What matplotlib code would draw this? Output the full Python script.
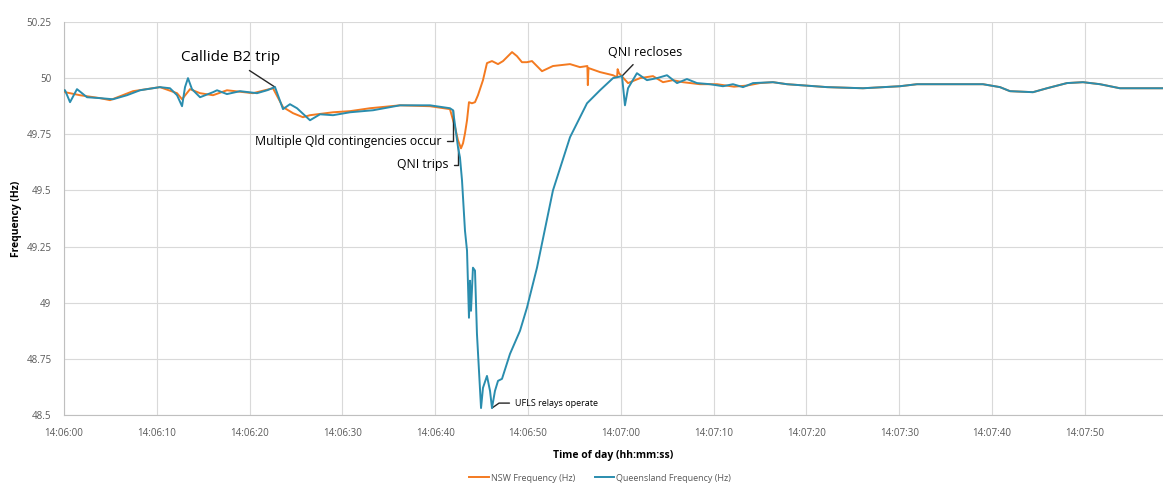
import matplotlib
matplotlib.use("Agg")
import matplotlib.pyplot as plt

plt.rcParams['font.family'] = ['Open Sans', 'DejaVu Sans']

# seconds after 14:06:00
nsw_t = [0, 0.11, 1.72, 3.88, 4.96, 7.44, 10.34, 12.18, 12.72, 13.58, 14.66, 16.06, 17.56,
         20.37, 22.52, 23.6, 24.68, 25.75, 26.51, 28.99, 30.82, 32.97, 36.21, 39.44, 41.59,
         42.13, 42.46, 42.78, 43.0, 43.21, 43.43, 43.64, 43.96, 44.29, 44.61, 45.15, 45.58,
         46.12, 46.77, 47.31, 48.28, 48.81, 49.35, 49.89, 50.43, 51.51, 52.69, 54.53, 55.6,
         56.4, 56.45, 56.52, 57.76, 59.16, 59.6, 59.66, 59.81, 60.78, 62.07, 63.47, 64.55,
         65.62, 66.7, 68.53, 70.37, 72.2, 73.6, 74.98, 76.4, 77.91, 82.22, 86.1, 90.09, 91.92,
         99.03, 100.86, 101.94, 104.42, 105.93, 108.08, 109.81, 111.64, 113.79, 118.43]
nsw_f = [49.946, 49.9375, 49.924, 49.911, 49.902, 49.942, 49.960, 49.933, 49.906, 49.951,
         49.933, 49.924, 49.946, 49.933, 49.955, 49.871, 49.844, 49.826, 49.835, 49.848,
         49.853, 49.866, 49.879, 49.875, 49.862, 49.783, 49.723, 49.6875, 49.71, 49.754,
         49.8125, 49.893, 49.888, 49.893, 49.924, 49.991, 50.067, 50.076, 50.0625, 50.076,
         50.116, 50.098, 50.071, 50.071, 50.076, 50.031, 50.054, 50.0625, 50.049, 50.054,
         49.969, 50.045, 50.027, 50.013, 50.004, 50.04, 50.022, 49.978, 50.0, 50.009,
         49.982, 49.991, 49.982, 49.973, 49.973, 49.962, 49.967, 49.978, 49.982, 49.973,
         49.960, 49.955, 49.964, 49.973, 49.973, 49.960, 49.942, 49.9375, 49.955, 49.978,
         49.982, 49.973, 49.955, 49.955]

qld_t = [0, 0.11, 0.65, 1.40, 2.48, 3.88, 5.28, 6.79, 8.19, 10.34, 11.42, 12.18, 12.72,
         13.04, 13.36, 13.79, 14.66, 16.06, 16.49, 17.56, 18.97, 20.80, 21.88, 22.74, 23.6,
         24.35, 25.11, 26.51, 27.59, 28.99, 30.82, 33.30, 36.21, 39.44, 41.59, 41.92, 42.46,
         42.67, 42.89, 43.21, 43.43, 43.64, 43.75, 43.86, 44.07, 44.29, 44.50, 44.94, 45.15,
         45.58, 45.91, 46.12, 46.44, 46.77, 47.20, 48.06, 49.14, 49.89, 50.97, 52.69, 54.53,
         56.36, 57.76, 59.16, 60.13, 60.45, 60.78, 61.74, 62.82, 63.90, 64.98, 66.06, 67.13,
         68.21, 69.62, 71.01, 72.09, 73.17, 74.25, 76.40, 77.91, 82.22, 86.10, 90.09, 91.92,
         99.03, 100.86, 101.94, 104.42, 105.93, 108.08, 109.81, 111.64, 113.79, 118.43]
qld_f = [49.946, 49.946, 49.893, 49.951, 49.915, 49.911, 49.906, 49.924, 49.946, 49.960,
         49.955, 49.924, 49.875, 49.960, 50.0, 49.951, 49.915, 49.9375, 49.946, 49.929,
         49.942, 49.933, 49.946, 49.960, 49.862, 49.884, 49.866, 49.8125, 49.839, 49.835,
         49.848, 49.857, 49.879, 49.879, 49.866, 49.857, 49.692, 49.647, 49.545, 49.321,
         49.232, 48.933, 49.098, 48.964, 49.156, 49.143, 48.862, 48.531, 48.621, 48.674,
         48.607, 48.531, 48.607, 48.652, 48.661, 48.772, 48.875, 48.978, 49.156, 49.5,
         49.737, 49.888, 49.946, 50.0, 50.009, 49.879, 49.955, 50.022, 49.991, 50.0, 50.013,
         49.978, 49.996, 49.978, 49.973, 49.964, 49.973, 49.960, 49.978, 49.982, 49.973,
         49.960, 49.955, 49.964, 49.973, 49.973, 49.960, 49.942, 49.9375, 49.955, 49.978,
         49.982, 49.973, 49.955, 49.955]

x_ticks = [0, 10, 20, 30, 40, 50, 60, 70, 80, 90, 100, 110]
x_tick_labels = ["14:06:00", "14:06:10", "14:06:20", "14:06:30", "14:06:40", "14:06:50",
                 "14:07:00", "14:07:10", "14:07:20", "14:07:30", "14:07:40", "14:07:50"]
y_ticks = [48.5, 48.75, 49, 49.25, 49.5, 49.75, 50, 50.25]
y_tick_labels = ["48.5", "48.75", "49", "49.25", "49.5", "49.75", "50", "50.25"]

ORANGE = '#F47A20'
BLUE = '#2A8DAE'

fig = plt.figure(figsize=(11.63, 4.86), dpi=100)
ax = fig.add_axes([64/1163, 1 - 415/486, 1 - 64/1163, (415 - 22)/486])

ax.plot(nsw_t, nsw_f, color=ORANGE, lw=1.4, label='NSW Frequency (Hz)', zorder=3)
ax.plot(qld_t, qld_f, color=BLUE, lw=1.4, label='Queensland Frequency (Hz)', zorder=4)

ax.set_xlim(0, 118.43)
ax.set_ylim(48.5, 50.25)
ax.set_xticks(x_ticks)
ax.set_xticklabels(x_tick_labels)
ax.set_yticks(y_ticks)
ax.set_yticklabels(y_tick_labels)
ax.tick_params(axis='both', length=0, labelsize=7, labelcolor='#595959')
ax.tick_params(axis='x', pad=9)
ax.tick_params(axis='y', pad=9)
ax.grid(True, color='#d9d9d9', lw=0.8, zorder=0)
ax.set_axisbelow(True)
for s in ['top', 'right']:
    ax.spines[s].set_visible(False)
for s in ['left', 'bottom']:
    ax.spines[s].set_color('#bfbfbf')
    ax.spines[s].set_linewidth(0.8)

ax.set_xlabel('Time of day (hh:mm:ss)', fontsize=7.5, fontweight='bold', labelpad=8)
ax.set_ylabel('Frequency (Hz)', fontsize=7.5, fontweight='bold', labelpad=3)

ann_col = '#262626'
ax.annotate('Callide B2 trip', xy=(22.74, 49.960), xytext=(17.9, 50.09),
            fontsize=11, ha='center', va='center', color='black',
            arrowprops=dict(arrowstyle='-', color=ann_col, lw=1, shrinkA=3, shrinkB=0))
ax.annotate('Multiple Qld contingencies occur', xy=(41.92, 49.857), xytext=(40.7, 49.719),
            fontsize=8.8, ha='right', va='center', color='black',
            arrowprops=dict(arrowstyle='-', color=ann_col, lw=1, shrinkA=2, shrinkB=0,
                            connectionstyle='angle,angleA=0,angleB=90,rad=0'))
ax.annotate('QNI trips', xy=(42.46, 49.692), xytext=(41.4, 49.614),
            fontsize=8.8, ha='right', va='center', color='black',
            arrowprops=dict(arrowstyle='-', color=ann_col, lw=1, shrinkA=2, shrinkB=0,
                            connectionstyle='angle,angleA=0,angleB=90,rad=0'))
ax.annotate('QNI recloses', xy=(60.13, 50.009), xytext=(62.6, 50.115),
            fontsize=9, ha='center', va='center', color='black',
            arrowprops=dict(arrowstyle='-', color=ann_col, lw=1, shrinkA=3, shrinkB=0))
ax.annotate('UFLS relays operate', xy=(46.12, 48.531), xytext=(48.6, 48.553),
            fontsize=6.5, ha='left', va='center', color='black',
            arrowprops=dict(arrowstyle='-', color=ann_col, lw=1, shrinkA=2, shrinkB=0,
                            connectionstyle='angle,angleA=180,angleB=35,rad=0'))

fig.legend(loc='center', bbox_to_anchor=(600/1163, 1 - 478/486), ncol=2, frameon=False,
           fontsize=6.5, handlelength=2.2, handletextpad=0.2, columnspacing=2.2,
           labelcolor='#595959')

fig.savefig('out.png', dpi=100)
